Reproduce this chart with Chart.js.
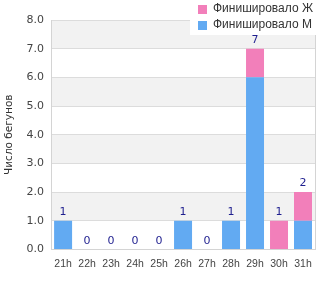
<!DOCTYPE html>
<html>
<head>
<meta charset="utf-8">
<script src="https://cdn.jsdelivr.net/npm/chart.js@4"></script>
<style>
  html, body { margin: 0; padding: 0; background: #fff; }
  #wrap { width: 330px; height: 300px; }
</style>
</head>
<body>
<div id="wrap"><canvas id="myChart" width="330" height="300"></canvas></div>
<script>
const hours = ['21h', '22h', '23h', '24h', '25h', '26h', '27h', '28h', '29h', '30h', '31h'];
const finishedM = [1, 0, 0, 0, 0, 1, 0, 1, 6, 0, 1];
const finishedF = [0, 0, 0, 0, 0, 0, 0, 0, 1, 1, 1];
const yTicks = [0, 1, 2, 3, 4, 5, 6, 7, 8];

const blue = '#62aaf2';
const pink = '#f27fba';
const labelColor = '#1f1f8f';

// bands, right border, totals and legend all drawn by hand
const extras = {
  id: 'extras',
  beforeDraw(chart) {
    const { ctx, chartArea, scales } = chart;
    const y = scales.y;
    ctx.save();
    for (let i = 1; i < yTicks.length; i += 2) {
      const top = y.getPixelForValue(yTicks[i] + 1);
      const bot = y.getPixelForValue(yTicks[i]);
      ctx.fillStyle = '#f2f2f2';
      ctx.fillRect(chartArea.left, top, chartArea.right - chartArea.left, bot - top);
    }
    ctx.restore();
  },
  afterDraw(chart) {
    const { ctx, chartArea, scales } = chart;
    const x = scales.x, y = scales.y;
    ctx.save();
    ctx.strokeStyle = '#d4d4d4';
    ctx.lineWidth = 1;
    ctx.beginPath();
    ctx.moveTo(Math.round(chartArea.right) + 0.5, chartArea.top);
    ctx.lineTo(Math.round(chartArea.right) + 0.5, chartArea.bottom);
    ctx.stroke();

    ctx.fillStyle = labelColor;
    ctx.font = '11px "DejaVu Sans"';
    ctx.textAlign = 'center';
    ctx.textBaseline = 'bottom';
    hours.forEach((h, i) => {
      const total = finishedM[i] + finishedF[i];
      ctx.fillText(String(total), x.getPixelForValue(i), y.getPixelForValue(total) - 3);
    });

    // legend box
    ctx.fillStyle = '#fff';
    ctx.fillRect(190, 0, 140, 35);
    const items = [['Финишировало Ж', pink], ['Финишировало М', blue]];
    ctx.font = '12px "Liberation Sans"';
    ctx.textAlign = 'left';
    ctx.textBaseline = 'middle';
    items.forEach((it, k) => {
      const cy = 9 + k * 16;
      ctx.fillStyle = it[1];
      ctx.fillRect(198, cy - 4, 9, 9);
      ctx.fillStyle = '#333';
      ctx.fillText(it[0], 213, cy);
    });
    ctx.restore();
  }
};

const ctx = document.getElementById('myChart').getContext('2d');
const myChart = new Chart(ctx, {
  type: 'bar',
  data: {
    labels: hours,
    datasets: [
      { label: 'Финишировало М', data: finishedM, backgroundColor: blue, stack: 's' },
      { label: 'Финишировало Ж', data: finishedF, backgroundColor: pink, stack: 's' }
    ]
  },
  options: {
    responsive: false,
    animation: false,
    layout: { padding: { top: 20, right: 15, bottom: 22, left: 3 } },
    datasets: { bar: { categoryPercentage: 1, barPercentage: 0.75 } },
    plugins: { legend: { display: false }, tooltip: { enabled: false } },
    scales: {
      x: {
        stacked: true,
        grid: { display: false, drawTicks: false },
        border: { color: '#d4d4d4' },
        ticks: { color: '#444', font: { family: 'Liberation Sans', size: 10.5 }, padding: 8, maxRotation: 0, autoSkip: false }
      },
      y: {
        stacked: true,
        min: 0, max: 8,
        afterBuildTicks(axis) { axis.ticks = yTicks.map(v => ({ value: v })); },
        grid: { color: '#dcdcdc', drawTicks: false },
        border: { color: '#d4d4d4' },
        ticks: { color: '#444', font: { family: 'DejaVu Sans', size: 11 }, padding: 7, callback: v => v.toFixed(1) },
        title: { display: true, text: 'Число бегунов', color: '#333', font: { family: 'DejaVu Sans', size: 10.5 }, padding: { top: 0, bottom: 4 } }
      }
    }
  },
  plugins: [extras]
});
</script>
</body>
</html>
